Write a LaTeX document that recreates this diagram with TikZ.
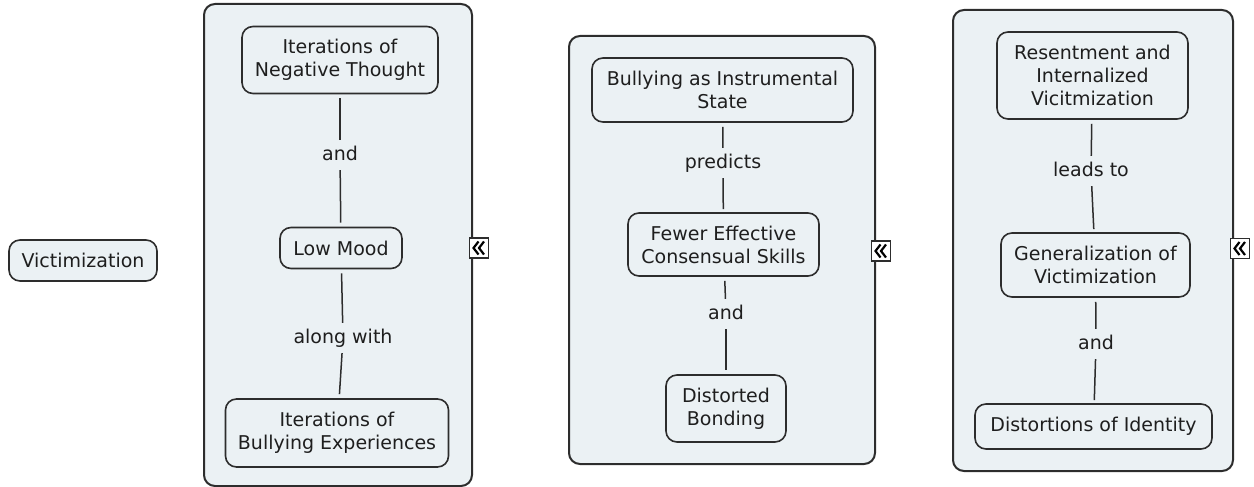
\documentclass[tikz,border=0pt]{standalone}
\usepackage{fontspec}
\setmainfont{DejaVu Sans}
\definecolor{panelbg}{RGB}{235,241,244}
\definecolor{edge}{RGB}{45,45,45}
\definecolor{ink}{RGB}{30,30,30}
\newcommand{\mapfont}{\fontsize{19}{23}\selectfont}
\begin{document}
\begin{tikzpicture}[x=1pt,y=-1pt,
  panel/.style={draw=edge, line width=2pt, fill=panelbg, rounded corners=11pt},
  concept/.style={draw=edge, line width=1.6pt, fill=panelbg, rounded corners=11pt,
    align=center, inner sep=0pt, font=\mapfont, text=ink},
  linker/.style={font=\mapfont, text=ink, inner sep=6pt, text height=14pt, text depth=4pt},
  wire/.style={draw=edge, line width=1.5pt},
  collapse/.style={draw=edge, line width=1.3pt, fill=white, minimum width=19pt,
    minimum height=20pt, inner sep=0pt},
  chev/.style={draw=black, line width=2.2pt, line join=miter}]
\useasboundingbox (0,0) rectangle (1254,487);

% free-standing concept
\node[concept, minimum width=148, minimum height=41] (vic) at (83,260.5) {Victimization};

% ---- first group ----
\path[panel] (204,4) rectangle (472,486);
\node[concept, minimum width=196, minimum height=67] (neg) at (340,60) {Iterations of\\Negative Thought};
\node[linker] (l1) at (340,155) {and};
\node[concept, minimum width=122, minimum height=41] (mood) at (341,248) {Low Mood};
\node[linker] (l2) at (343,338) {along with};
\node[concept, minimum width=223, minimum height=68] (bexp) at (337,433) {Iterations of\\Bullying Experiences};
\draw[wire, shorten <=4pt] (neg) -- (l1);
\draw[wire, shorten >=4pt] (l1) -- (mood);
\draw[wire, shorten <=4pt] (mood) -- (l2);
\draw[wire, shorten >=4pt] (l2) -- (bexp);
\node[collapse] (c1) at (479,248) {};
\draw[chev, shift={(479,248)}] (-0.5,-6.5) -- (-5.5,0) -- (-0.5,6.5) (5,-6.5) -- (0,0) -- (5,6.5);

% ---- second group ----
\path[panel] (569,36) rectangle (875,464);
\node[concept, minimum width=261, minimum height=64] (inst) at (722.5,90) {Bullying as Instrumental\\State};
\node[linker] (l3) at (723,163) {predicts};
\node[concept, minimum width=191, minimum height=63] (skill) at (723.5,244.5) {Fewer Effective\\Consensual Skills};
\node[linker] (l4) at (726,314) {and};
\node[concept, minimum width=120, minimum height=67] (bond) at (726,408.5) {Distorted\\Bonding};
\draw[wire, shorten <=4pt] (inst) -- (l3);
\draw[wire, shorten >=3pt] (l3) -- (skill);
\draw[wire, shorten <=4pt] (skill) -- (l4);
\draw[wire, shorten >=4pt] (l4) -- (bond);
\node[collapse] (c2) at (881,251) {};
\draw[chev, shift={(881,251)}] (-0.5,-6.5) -- (-5.5,0) -- (-0.5,6.5) (5,-6.5) -- (0,0) -- (5,6.5);

% ---- third group ----
\path[panel] (953,10) rectangle (1233,471);
\node[concept, minimum width=191, minimum height=87] (resent) at (1092.5,75.5) {Resentment and\\Internalized\\Vicitmization};
\node[linker] (l5) at (1091,171) {leads to};
\node[concept, minimum width=189, minimum height=64] (gen) at (1095.5,265) {Generalization of\\Victimization};
\node[linker] (l6) at (1096,344) {and};
\node[concept, minimum width=237, minimum height=45] (ident) at (1093.5,426.5) {Distortions of Identity};
\draw[wire, shorten <=4pt] (resent) -- (l5);
\draw[wire, shorten >=3pt] (l5) -- (gen);
\draw[wire, shorten <=4pt] (gen) -- (l6);
\draw[wire, shorten >=3pt] (l6) -- (ident);
\node[collapse] (c3) at (1240,248.5) {};
\draw[chev, shift={(1240,248.5)}] (-0.5,-6.5) -- (-5.5,0) -- (-0.5,6.5) (5,-6.5) -- (0,0) -- (5,6.5);
\end{tikzpicture}
\end{document}
